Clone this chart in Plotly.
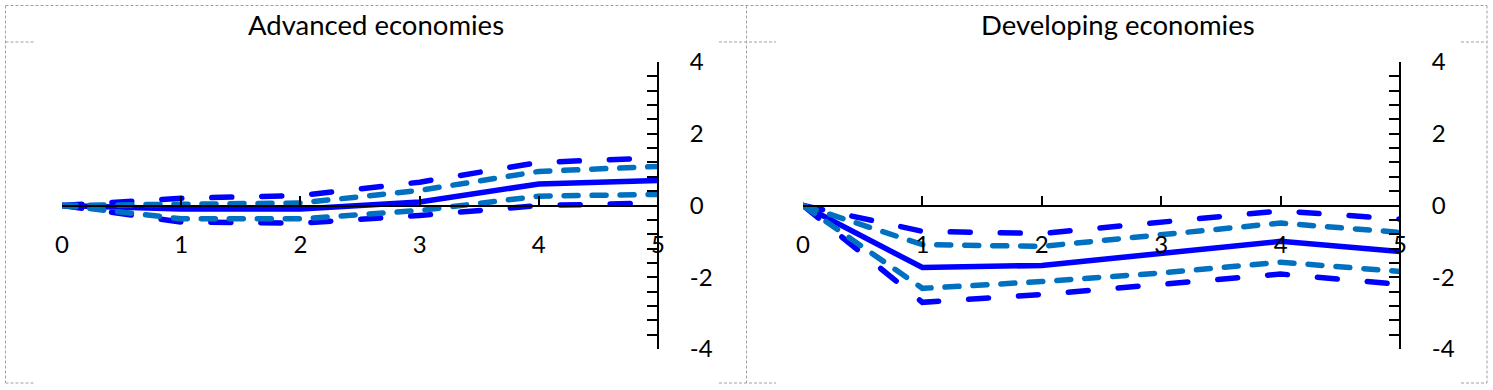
import plotly.graph_objects as go

W, H = 1493, 390

horizon = [0, 1, 2, 3, 4, 5]
y_tick_vals = [-4, -2, 0, 2, 4]
y_tick_text = ["-4", "-2", "0", "2", "4"]
x_tick_vals = [0, 1, 2, 3, 4, 5]
x_tick_text = ["0", "1", "2", "3", "4", "5"]

titles = ["Advanced economies", "Developing economies"]

adv_est = [0, -0.1, -0.1, 0.1, 0.6, 0.7]
adv_hi90 = [0, 0.2, 0.28, 0.65, 1.2, 1.33]
adv_lo90 = [0, -0.46, -0.49, -0.28, 0.0, 0.07]
adv_hi68 = [0, 0.05, 0.07, 0.42, 0.95, 1.09]
adv_lo68 = [0, -0.37, -0.37, -0.14, 0.26, 0.31]

dev_est = [0, -1.73, -1.67, -1.33, -1.0, -1.28]
dev_hi90 = [0, -0.72, -0.78, -0.45, -0.15, -0.38]
dev_lo90 = [0, -2.7, -2.48, -2.2, -1.91, -2.2]
dev_hi68 = [0, -1.09, -1.14, -0.8, -0.49, -0.75]
dev_lo68 = [0, -2.31, -2.12, -1.88, -1.58, -1.84]

DARK = "#0000FF"
LIGHT = "#0070C0"
FONT = "Lato"

fig = go.Figure()

panels = [
    (adv_est, adv_hi90, adv_lo90, adv_hi68, adv_lo68, "x", "y"),
    (dev_est, dev_hi90, dev_lo90, dev_hi68, dev_lo68, "x2", "y2"),
]

for est, hi90, lo90, hi68, lo68, xa, ya in panels:
    for s in (hi90, lo90):
        fig.add_trace(go.Scatter(x=horizon, y=s, xaxis=xa, yaxis=ya, mode="lines",
                                 line=dict(color=DARK, width=5.5, dash="20px,30px"),
                                 showlegend=False, hoverinfo="skip"))
    fig.add_trace(go.Scatter(x=horizon, y=est, xaxis=xa, yaxis=ya, mode="lines",
                             line=dict(color=DARK, width=5.5),
                             showlegend=False, hoverinfo="skip"))
    for s in (hi68, lo68):
        fig.add_trace(go.Scatter(x=horizon, y=s, xaxis=xa, yaxis=ya, mode="lines",
                                 line=dict(color=LIGHT, width=5.5, dash="14px,14px"),
                                 showlegend=False, hoverinfo="skip"))

y_top, y_bot = 62, 349
ydom = [(H - y_bot) / H, (H - y_top) / H]
y_zero_paper = (ydom[0] + ydom[1]) / 2

def xaxis_cfg(x0, x1):
    return dict(domain=[x0 / W, x1 / W], range=[0, 5], anchor="free", position=y_zero_paper,
                showgrid=False, zeroline=False, showline=True, linecolor="black", linewidth=2,
                ticks="inside", ticklen=9, tickwidth=2, tickcolor="black",
                tickvals=x_tick_vals, ticktext=x_tick_text, ticklabelstandoff=18,
                automargin=False,
                tickfont=dict(family=FONT, size=24, color="black"), fixedrange=True)

def yaxis_cfg(x1):
    return dict(domain=ydom, range=[-4, 4], anchor="free", position=x1 / W, side="right",
                showgrid=False, zeroline=False, showline=True, linecolor="black", linewidth=2,
                ticks="inside", ticklen=10, tickwidth=2, tickcolor="black",
                tickvals=y_tick_vals, ticktext=y_tick_text, ticklabelstandoff=26,
                automargin=False,
                minor=dict(dtick=0.4, tick0=0, ticks="inside", ticklen=10, tickwidth=2,
                           tickcolor="black", showgrid=False),
                tickfont=dict(family=FONT, size=24, color="black"), fixedrange=True)

fig.update_layout(
    width=W, height=H, margin=dict(l=0, r=0, t=0, b=0, pad=0, autoexpand=False),
    paper_bgcolor="white", plot_bgcolor="white",
    xaxis=xaxis_cfg(62, 658), yaxis=yaxis_cfg(658),
    xaxis2=xaxis_cfg(803, 1400), yaxis2=yaxis_cfg(1400),
)

for t, cx in zip(titles, (376, 1118)):
    fig.add_annotation(text=t, x=cx / W, y=1 - 24 / H, xref="paper", yref="paper",
                       showarrow=False, xanchor="center", yanchor="middle",
                       font=dict(family=FONT, size=27.5, color="black"))

border = dict(color="#A0A0A0", width=1, dash="3px,2px")

def seg(x0, y0, x1, y1):
    fig.add_shape(type="line", xref="paper", yref="paper",
                  x0=x0 / W, x1=x1 / W, y0=1 - y0 / H, y1=1 - y1 / H, line=border)

seg(5.5, 5.5, 1487, 5.5)
for xv in (5.5, 746.5, 1487):
    seg(xv, 5.5, xv, 383)
for (a, b) in ((5.5, 35), (719, 776), (1461, 1487)):
    seg(a, 42, b, 42)
    seg(a, 383, b, 383)

post = (
    "document.body.style.margin='0';document.body.style.overflow='hidden';"
    "document.querySelectorAll('.scatterlayer path.js-line').forEach("
    "function(p){p.style.strokeLinecap='round';});"
)

fig.write_html("out.html", config={"displayModeBar": False}, post_script=post)
